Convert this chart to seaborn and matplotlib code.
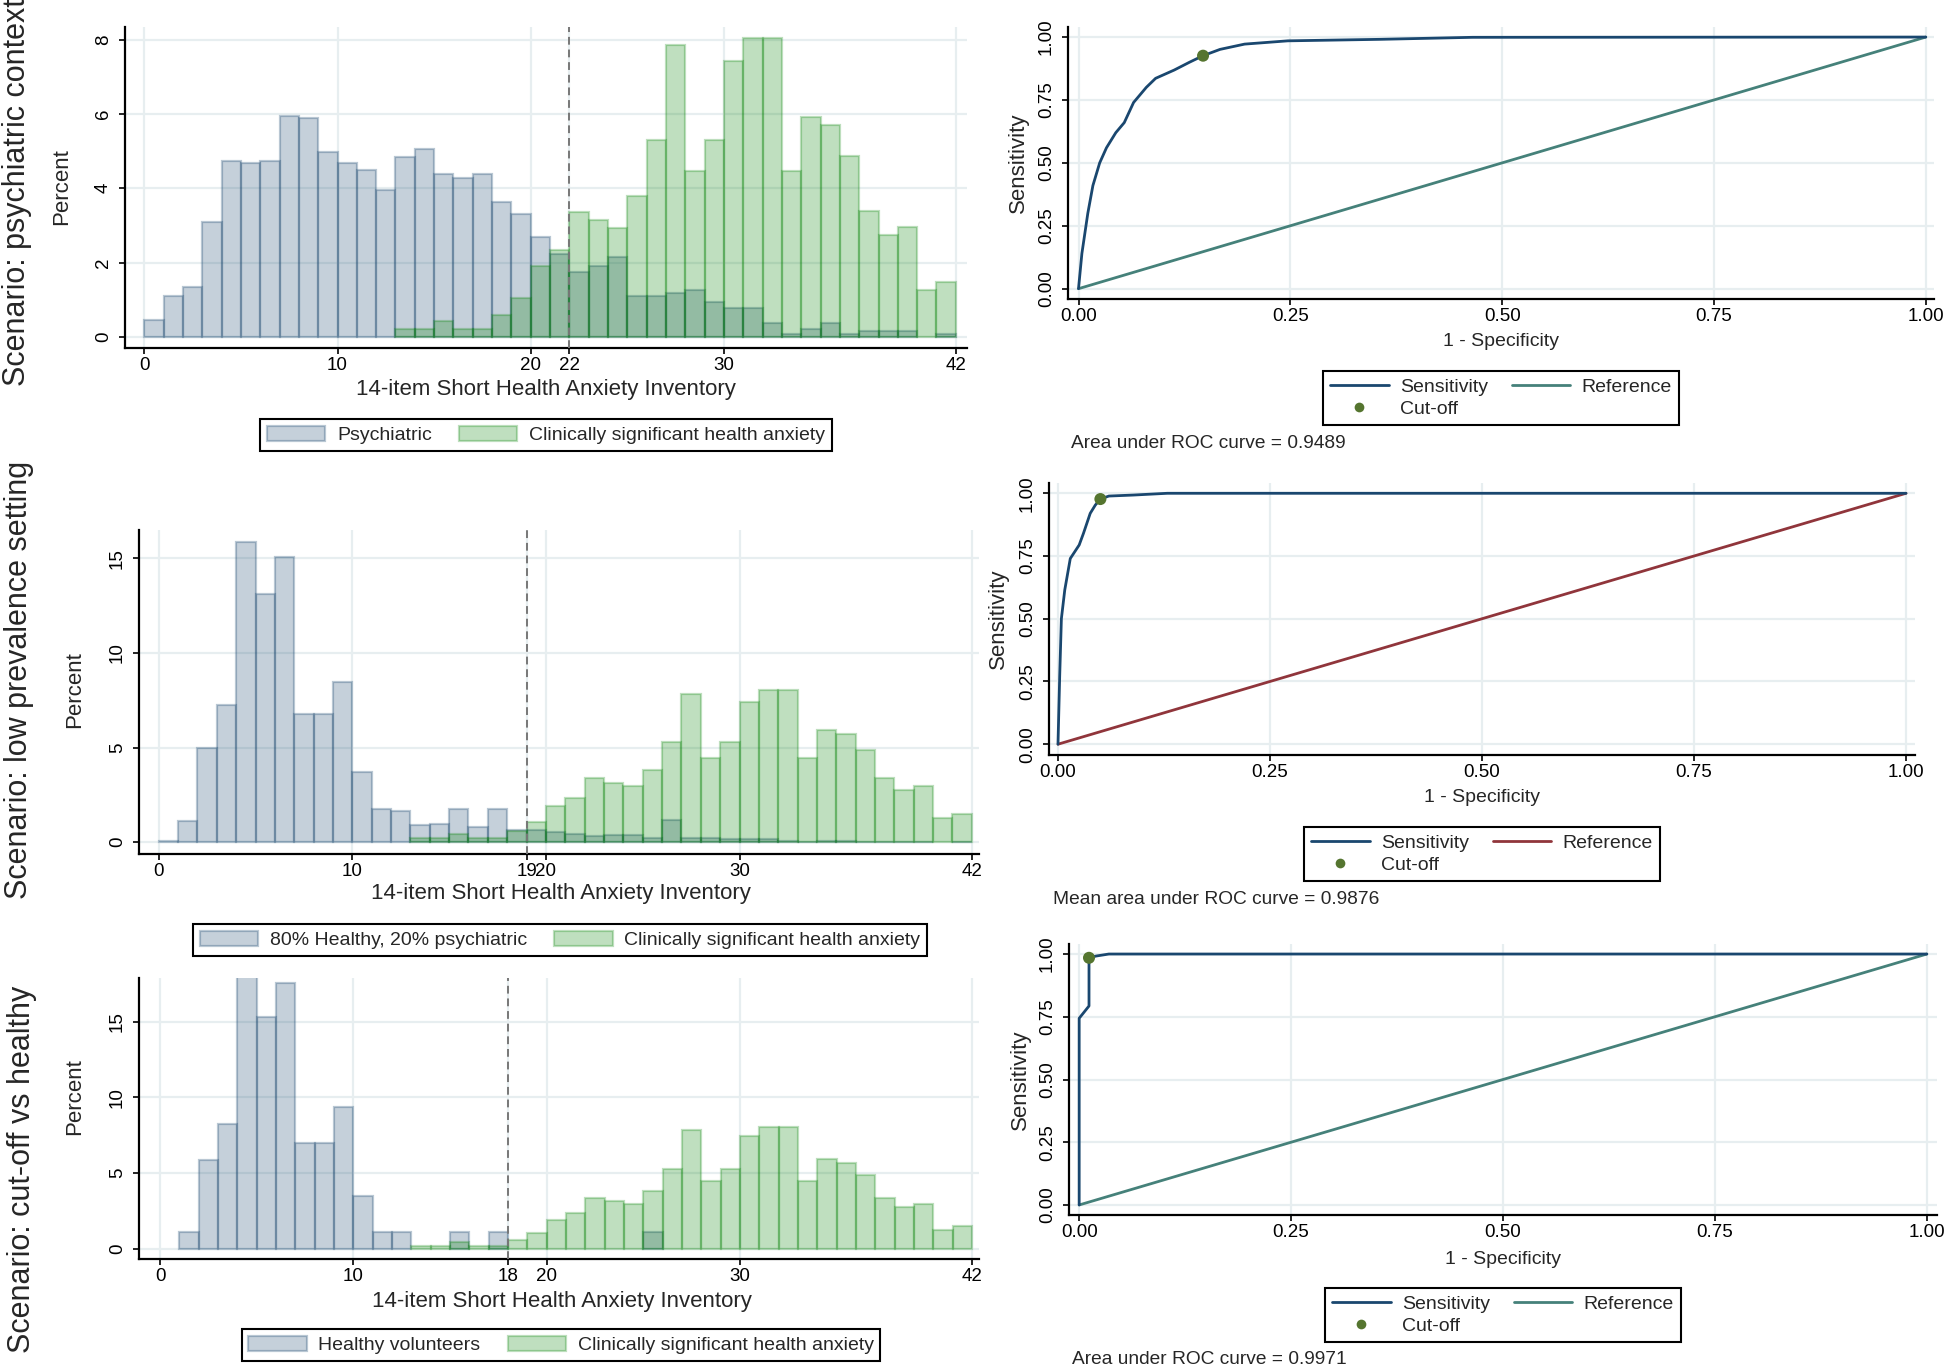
import numpy as np
import pandas as pd
import matplotlib
matplotlib.use("Agg")
import matplotlib.pyplot as plt
from matplotlib.colors import to_rgba
from matplotlib.patches import Patch
from matplotlib.lines import Line2D
import seaborn as sns

# ---------------- data ----------------
# percent of each group per 1-point bin of the SHAI-14 score (bins 0-1, 1-2, ..., 41-42)
bin_mid = np.arange(42) + 0.5

psychiatric = [0.45, 1.09, 1.34, 3.09, 4.73, 4.67, 4.73, 5.95, 5.88, 4.98,
               4.67, 4.49, 3.96, 4.83, 5.06, 4.38, 4.27, 4.38, 3.64, 3.32,
               2.68, 2.24, 1.74, 1.90, 2.15, 1.10, 1.10, 1.19, 1.26, 0.94,
               0.78, 0.78, 0.38, 0.08, 0.22, 0.38, 0.08, 0.15, 0.15, 0.15,
               0.00, 0.08]
mixed_80_20 = [0.08, 1.13, 5.00, 7.25, 15.88, 13.10, 15.05, 6.76, 6.78, 8.49,
               3.73, 1.76, 1.65, 0.92, 0.97, 1.76, 0.79, 1.76, 0.65, 0.65,
               0.55, 0.42, 0.33, 0.38, 0.38, 0.20, 1.15, 0.22, 0.24, 0.17,
               0.15, 0.15, 0.08, 0.02, 0.05, 0.08, 0.02, 0.03, 0.03, 0.03,
               0.00, 0.02]
healthy = [0.00, 1.12, 5.85, 8.23, 18.70, 15.29, 17.60, 7.00, 7.00, 9.40,
           3.50, 1.12, 1.12, 0.00, 0.00, 1.12, 0.00, 1.12, 0.00, 0.00,
           0.00, 0.00, 0.00, 0.00, 0.00, 1.12, 0.00, 0.00, 0.00, 0.00,
           0.00, 0.00, 0.00, 0.00, 0.00, 0.00, 0.00, 0.00, 0.00, 0.00,
           0.00, 0.00]
clinical_ha = [0.00, 0.00, 0.00, 0.00, 0.00, 0.00, 0.00, 0.00, 0.00, 0.00,
               0.00, 0.00, 0.00, 0.20, 0.20, 0.42, 0.20, 0.20, 0.60, 1.05,
               1.90, 2.33, 3.37, 3.15, 2.94, 3.80, 5.30, 7.85, 4.47, 5.30,
               7.42, 8.05, 8.05, 4.47, 5.93, 5.70, 4.88, 3.38, 2.75, 2.95,
               1.27, 1.48]

scenarios = ["Scenario: psychiatric context", "Scenario: low prevalence setting",
             "Scenario: cut-off vs healthy"]
comparison_groups = [psychiatric, mixed_80_20, healthy]
comparison_names = ["Psychiatric", "80% Healthy, 20% psychiatric", "Healthy volunteers"]
cutoffs = [22, 19, 18]
hist_xticks = [[0, 10, 20, 22, 30, 42], [0, 10, 19, 20, 30, 42], [0, 10, 18, 20, 30, 42]]
hist_yticks = [[0, 2, 4, 6, 8], [0, 5, 10, 15], [0, 5, 10, 15]]

# ROC curves (1 - specificity, sensitivity)
roc1_fpr = [0, 0.004, 0.011, 0.017, 0.025, 0.033, 0.044, 0.054, 0.065, 0.080,
            0.091, 0.113, 0.131, 0.147, 0.167, 0.196, 0.247, 0.356, 0.465, 1.0]
roc1_tpr = [0, 0.14, 0.30, 0.41, 0.50, 0.56, 0.62, 0.66, 0.74, 0.80,
            0.836, 0.869, 0.90, 0.926, 0.951, 0.972, 0.985, 0.991, 0.999, 1.0]
roc2_fpr = [0, 0.002, 0.004, 0.008, 0.0145, 0.025, 0.030, 0.038, 0.044, 0.050,
            0.060, 0.089, 0.129, 1.0]
roc2_tpr = [0, 0.27, 0.50, 0.615, 0.74, 0.794, 0.84, 0.92, 0.953, 0.977,
            0.989, 0.993, 1.0, 1.0]
roc3_fpr = [0, 0, 0.0116, 0.0116, 0.020, 0.035, 1.0]
roc3_tpr = [0, 0.744, 0.793, 0.985, 0.992, 1.0, 1.0]
roc_fpr = [roc1_fpr, roc2_fpr, roc3_fpr]
roc_tpr = [roc1_tpr, roc2_tpr, roc3_tpr]
cutoff_fpr = [0.147, 0.050, 0.0116]
cutoff_tpr = [0.926, 0.977, 0.985]
reference_line = [0, 1]
auc_labels = ["Area under ROC curve = 0.9489", "Mean area under ROC curve = 0.9876",
              "Area under ROC curve = 0.9971"]

# ---------------- style ----------------
NAVY = "#1a476f"
GREEN = "#008000"
FOREST = "#55752f"
TEAL = "#45817a"
MAROON = "#90353b"
GRID = "#e7eef0"
ref_colors = [TEAL, MAROON, TEAL]

sns.set_theme(style="white")
plt.rcParams["font.family"] = ["Liberation Sans", "DejaVu Sans"]

W, H = 1945, 1367
fig = plt.figure(figsize=(W / 100, H / 100), dpi=100)


def rect(l, t, r, b):
    return [l / W, 1 - b / H, (r - l) / W, (b - t) / H]


def fpos(x, y):
    return x / W, 1 - y / H


def style_axes(ax, xgrid=False):
    for s in ["top", "right"]:
        ax.spines[s].set_visible(False)
    for s in ["left", "bottom"]:
        ax.spines[s].set_color("black")
        ax.spines[s].set_linewidth(1.6)
    ax.tick_params(axis="both", direction="out", length=4.5, width=1.2,
                   color="black", labelsize=13.5, labelcolor="black", pad=2,
                   bottom=True, left=True)
    ax.tick_params(axis="y", labelrotation=90, pad=5)
    plt.setp(ax.get_yticklabels(), va="center")
    ax.yaxis.grid(True, color=GRID, lw=1.6)
    ax.xaxis.grid(xgrid, color=GRID, lw=1.6)
    ax.set_axisbelow(True)
    ax.set(xlabel="", ylabel="")


# ---------------- histograms ----------------
hist_boxes = [(125, 27, 967, 348), (139, 530, 979, 854), (139, 978, 979, 1259)]
hist_xlims = [(-1.0, 42.58), (-1.02, 42.37), (-1.09, 42.37)]
hist_ylims = [(-0.3, 8.34), (-0.63, 16.5), (-0.68, 17.9)]
scen_pos = [(17, 192), (19, 680), (22, 1169)]
percent_pos = [(62, 187), (75, 690), (75, 1097)]
hxlabel_pos = [(546, 390), (561, 893), (562, 1301)]
hleg_pos = [(546, 435), (560, 940), (561, 1345)]

navy_face, navy_edge = to_rgba(NAVY, 0.25), to_rgba(NAVY, 0.3)
green_face, green_edge = to_rgba(GREEN, 0.25), to_rgba(GREEN, 0.26)

for i in range(3):
    ax = fig.add_axes(rect(*hist_boxes[i]))
    df = pd.DataFrame({"score": bin_mid, "other": comparison_groups[i], "hsa": clinical_ha})
    sns.histplot(data=df, x="score", weights="other", binwidth=1, binrange=(0, 42), ax=ax,
                 facecolor=navy_face, edgecolor=navy_edge, linewidth=1.6)
    sns.histplot(data=df, x="score", weights="hsa", binwidth=1, binrange=(0, 42), ax=ax,
                 facecolor=green_face, edgecolor=green_edge, linewidth=1.6)
    for p in ax.patches:
        if p.get_height() <= 0:
            p.set_visible(False)
    ax.axvline(cutoffs[i], color="#777777", lw=1.4, ls=(0, (4, 2.5)), zorder=5)
    ax.set_xlim(*hist_xlims[i])
    ax.set_ylim(*hist_ylims[i])
    ax.set_xticks(hist_xticks[i])
    ax.set_xticklabels([str(t) for t in hist_xticks[i]])
    ax.set_yticks(hist_yticks[i])
    ax.set_yticklabels([str(t) for t in hist_yticks[i]])
    style_axes(ax)

    fig.text(*fpos(*scen_pos[i]), scenarios[i], rotation=90, ha="center", va="center",
             fontsize=22)
    fig.text(*fpos(*percent_pos[i]), "Percent", rotation=90, ha="center", va="center",
             fontsize=16)
    fig.text(*fpos(*hxlabel_pos[i]), "14-item Short Health Anxiety Inventory",
             ha="center", va="center", fontsize=16)
    handles = [Patch(facecolor=navy_face, edgecolor=navy_edge, lw=1.6, label=comparison_names[i]),
               Patch(facecolor=green_face, edgecolor=green_edge, lw=1.6,
                     label="Clinically significant health anxiety")]
    leg = fig.legend(handles=handles, loc="center", bbox_to_anchor=fpos(*hleg_pos[i]),
                     ncol=2, fontsize=14, frameon=True, fancybox=False, framealpha=1,
                     edgecolor="black", handlelength=3.0, handleheight=0.8,
                     handletextpad=0.6, columnspacing=1.4, borderpad=0.35)
    leg.get_frame().set_linewidth(1.5)

# ---------------- ROC curves ----------------
roc_boxes = [(1068, 27, 1934, 299), (1049, 483, 1915, 755), (1069, 944, 1937, 1215)]
roc_xlims = [(-0.0124, 1.0097), (-0.0106, 1.0106), (-0.012, 1.012)]
roc_ylims = [(-0.041, 1.04), (-0.043, 1.041), (-0.04, 1.04)]
sens_pos = [(1018, 163), (998, 619), (1020, 1080)]
rxlabel_pos = [(1501, 342), (1482, 798), (1503, 1260)]
rleg_pos = [(1501, 398), (1482, 854), (1503, 1315)]
auc_pos = [(1071, 443), (1053, 899), (1072, 1360)]
roc_ticks = [0, 0.25, 0.5, 0.75, 1.0]

for i in range(3):
    ax = fig.add_axes(rect(*roc_boxes[i]))
    sns.lineplot(x=reference_line, y=reference_line, ax=ax, color=ref_colors[i], lw=2.0)
    sns.lineplot(x=roc_fpr[i], y=roc_tpr[i], ax=ax, color=NAVY, lw=2.0,
                 sort=False, estimator=None)
    sns.scatterplot(x=[cutoff_fpr[i]], y=[cutoff_tpr[i]], ax=ax, color=FOREST, s=75,
                    edgecolor="none", zorder=5)
    ax.set_xlim(*roc_xlims[i])
    ax.set_ylim(*roc_ylims[i])
    ax.set_xticks(roc_ticks)
    ax.set_xticklabels([f"{t:.2f}" for t in roc_ticks])
    ax.set_yticks(roc_ticks)
    ax.set_yticklabels([f"{t:.2f}" for t in roc_ticks])
    style_axes(ax, xgrid=True)

    fig.text(*fpos(*sens_pos[i]), "Sensitivity", rotation=90, ha="center", va="center",
             fontsize=16)
    fig.text(*fpos(*rxlabel_pos[i]), "1 - Specificity", ha="center", va="center",
             fontsize=14)
    fig.text(*fpos(*auc_pos[i]), auc_labels[i], ha="left", va="center", fontsize=13.8)
    handles = [Line2D([], [], color=NAVY, lw=2.0, label="Sensitivity"),
               Line2D([], [], color=FOREST, marker="o", ls="none", markersize=7,
                      markeredgecolor="none", label="Cut-off"),
               Line2D([], [], color=ref_colors[i], lw=2.0, label="Reference")]
    leg = fig.legend(handles=handles, loc="center", bbox_to_anchor=fpos(*rleg_pos[i]),
                     ncol=2, fontsize=14, frameon=True, fancybox=False, framealpha=1,
                     edgecolor="black", handlelength=3.0, handletextpad=0.6,
                     columnspacing=1.2, borderpad=0.35, labelspacing=0.25)
    leg.get_frame().set_linewidth(1.5)

fig.savefig("out.png", dpi=100)
